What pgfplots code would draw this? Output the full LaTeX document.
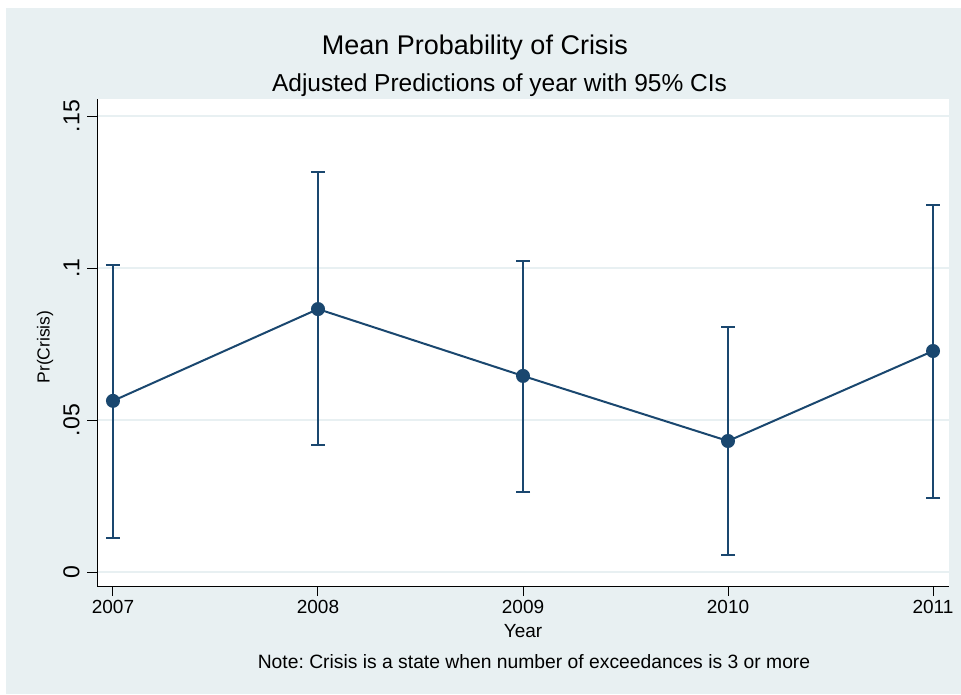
\documentclass[border=0pt]{standalone}
\usepackage{pgfplots}
\pgfplotsset{compat=1.18}
\usepackage{pgfplotstable}
\usepackage{fontspec}
\setmainfont{Liberation Sans}
\frenchspacing
\definecolor{stbg}{RGB}{232,240,242}
\definecolor{stgrid}{RGB}{232,240,242}
\definecolor{stnavy}{RGB}{26,71,111}
\pgfplotstableread{
year  pr      ep      em
2007  0.0563  0.0447  0.0451
2008  0.0865  0.0451  0.0447
2009  0.0645  0.0378  0.0382
2010  0.0431  0.0375  0.0375
2011  0.0727  0.0480  0.0484
}\crisis
\begin{document}
\begin{tikzpicture}[x=1pt,y=1pt]
\useasboundingbox (0,0) rectangle (961,694);
\fill[stbg] (6,0) rectangle (961,686);
\begin{axis}[
  at={(97pt,108pt)}, anchor=south west,
  scale only axis, width=852pt, height=487pt,
  xmin=2006.922, xmax=2011.078, ymin=-0.0046, ymax=0.1556,
  axis x line*=bottom, axis y line*=left,
  axis line style={black, line width=1pt},
  axis background/.style={fill=white},
  xtick={2007,2008,2009,2010,2011},
  xticklabels={2007,2008,2009,2010,2011},
  ytick={0,0.05,0.1,0.15},
  yticklabels={0,.05,.1,.15},
  tick align=outside, major tick length=10pt,
  tick style={black, line width=1pt},
  x tick label style={font=\fontsize{19}{21}\selectfont, yshift=-1pt},
  y tick label style={font=\fontsize{23}{25}\selectfont, xshift=-4pt, rotate=90, anchor=south},
  ymajorgrids, grid style={stgrid, line width=2.5pt},
  clip=false,
]
\addplot[stnavy, line width=2pt, mark=*, mark size=6pt,
  mark options={fill=stnavy, draw=stnavy},
  error bars/.cd, y dir=both, y explicit,
  error bar style={stnavy, line width=2pt},
  error mark options={stnavy, line width=2pt, mark size=7pt, rotate=90}]
  table[x=year, y=pr, y error plus=ep, y error minus=em] {\crisis};
\end{axis}
\node[font=\fontsize{27}{30}\selectfont, anchor=base] at (475,639) {Mean Probability of Crisis};
\node[font=\fontsize{24.5}{27}\selectfont, anchor=base] at (499.5,602) {Adjusted Predictions of year with 95\% CIs};
\node[font=\fontsize{17.5}{20}\selectfont, rotate=90] at (45,347) {Pr(Crisis)};
\node[font=\fontsize{19}{21}\selectfont] at (523,63) {Year};
\node[font=\fontsize{19.3}{21}\selectfont] at (534,32) {Note: Crisis is a state when number of exceedances is 3 or more};
\end{tikzpicture}
\end{document}
